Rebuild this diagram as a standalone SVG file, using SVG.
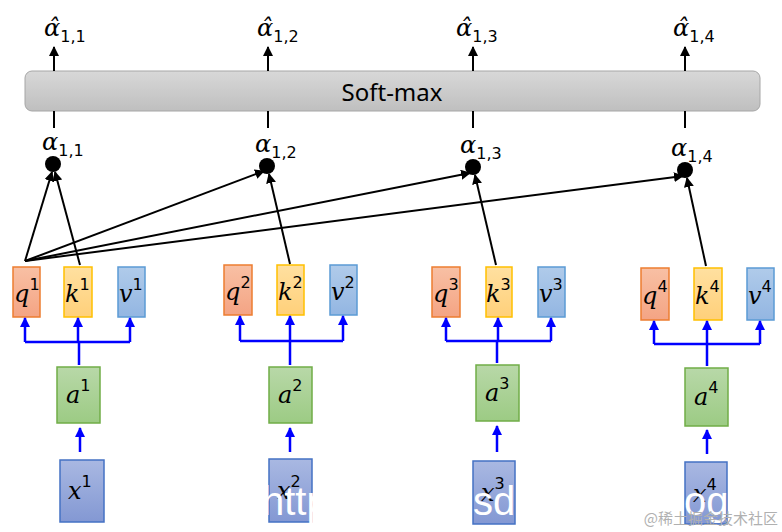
<svg xmlns="http://www.w3.org/2000/svg" width="782" height="532" viewBox="0 0 782 532">
<defs>
<linearGradient id="gq" x1="0" y1="0" x2="0" y2="1"><stop offset="0" stop-color="#f8c0a4"/><stop offset="1" stop-color="#f4a484"/></linearGradient>
<linearGradient id="gk" x1="0" y1="0" x2="0" y2="1"><stop offset="0" stop-color="#ffe0a0"/><stop offset="1" stop-color="#ffd07a"/></linearGradient>
<linearGradient id="gv" x1="0" y1="0" x2="0" y2="1"><stop offset="0" stop-color="#b0cbea"/><stop offset="1" stop-color="#93b6e2"/></linearGradient>
<linearGradient id="ga" x1="0" y1="0" x2="0" y2="1"><stop offset="0" stop-color="#b8d8a8"/><stop offset="1" stop-color="#9ccb84"/></linearGradient>
<linearGradient id="gx" x1="0" y1="0" x2="0" y2="1"><stop offset="0" stop-color="#a9b8e2"/><stop offset="1" stop-color="#8398d3"/></linearGradient>
<linearGradient id="gs" x1="0" y1="0" x2="0" y2="1"><stop offset="0" stop-color="#d8d8d8"/><stop offset="1" stop-color="#bfbfbf"/></linearGradient>
<marker id="ab" viewBox="0 0 10 10" refX="9" refY="5" markerWidth="4" markerHeight="4" orient="auto"><path d="M0,0L10,5L0,10z" fill="#0000ff"/></marker>
<marker id="ak" viewBox="0 0 10 10" refX="9" refY="5" markerWidth="5" markerHeight="5" orient="auto"><path d="M0,0L10,5L0,10z" fill="#000"/></marker>
</defs>
<style>
.t{font-family:"DejaVu Serif","Liberation Serif",serif;font-style:italic;font-size:24px;fill:#000}
.s{font-family:"DejaVu Sans","Liberation Sans",sans-serif;font-style:normal;font-size:16px}
.q{fill:url(#gq);stroke:#ed7d31;stroke-width:1.5}
.k{fill:url(#gk);stroke:#ffc000;stroke-width:1.5}
.v{fill:url(#gv);stroke:#5b9bd5;stroke-width:1.5}
.a{fill:url(#ga);stroke:#70ad47;stroke-width:1.5}
.x{fill:url(#gx);stroke:#4472c4;stroke-width:1.5}
.bl{stroke:#0000ff;stroke-width:2.5;fill:none}
.ba{stroke:#0000ff;stroke-width:2.5;fill:none;marker-end:url(#ab)}
.k2{stroke:#000;stroke-width:2;fill:none;marker-end:url(#ak)}
.k1{stroke:#000;stroke-width:2;fill:none}
.w{font-family:"Liberation Sans",sans-serif;font-size:40px;fill:#fff}
</style>
<g id="softmax">
<rect x="25" y="71" width="735" height="40" rx="7" fill="url(#gs)" stroke="#a6a6a6"/>
<text x="392" y="101" text-anchor="middle" font-family="Noto Sans,sans-serif" font-size="24">Soft-max</text>
</g>
<g id="outputs">
<text class="t" x="44" y="36">α̂<tspan class="s" dy="6">1,1</tspan></text>
<text class="t" x="257" y="36">α̂<tspan class="s" dy="6">1,2</tspan></text>
<text class="t" x="456" y="36">α̂<tspan class="s" dy="6">1,3</tspan></text>
<text class="t" x="673" y="36">α̂<tspan class="s" dy="6">1,4</tspan></text>
</g>
<g id="scores">
<text class="t" x="42" y="150">α<tspan class="s" dy="6">1,1</tspan></text><circle cx="53" cy="164" r="8"/>
<text class="t" x="255" y="152">α<tspan class="s" dy="6">1,2</tspan></text><circle cx="267" cy="166" r="8"/>
<text class="t" x="460" y="153">α<tspan class="s" dy="6">1,3</tspan></text><circle cx="473" cy="167" r="8"/>
<text class="t" x="671" y="156">α<tspan class="s" dy="6">1,4</tspan></text><circle cx="685" cy="170" r="8"/>
</g>
<g id="n1">
<rect class="q" x="13" y="267" width="27" height="50"/><text class="t" x="14" y="302">q<tspan class="s" dy="-12">1</tspan></text>
<rect class="k" x="64" y="267" width="28" height="50"/><text class="t" x="65" y="302">k<tspan class="s" dy="-12">1</tspan></text>
<rect class="v" x="118" y="267" width="27" height="50"/><text class="t" x="119" y="302">v<tspan class="s" dy="-12">1</tspan></text>
<rect class="a" x="57" y="367" width="43" height="56"/><text class="t" x="66" y="403">a<tspan class="s" dy="-12">1</tspan></text>
<rect class="x" x="60" y="460" width="44" height="62"/><text class="t" x="68" y="499">x<tspan class="s" dy="-12">1</tspan></text>
</g>
<g id="n2">
<rect class="q" x="224" y="265" width="28" height="50"/><text class="t" x="225" y="300">q<tspan class="s" dy="-12">2</tspan></text>
<rect class="k" x="277" y="265" width="27" height="50"/><text class="t" x="278" y="300">k<tspan class="s" dy="-12">2</tspan></text>
<rect class="v" x="330" y="265" width="27" height="50"/><text class="t" x="331" y="300">v<tspan class="s" dy="-12">2</tspan></text>
<rect class="a" x="269" y="367" width="43" height="56"/><text class="t" x="278" y="403">a<tspan class="s" dy="-12">2</tspan></text>
<rect class="x" x="269" y="459" width="43" height="63"/><text class="t" x="277" y="499">x<tspan class="s" dy="-12">2</tspan></text>
</g>
<g id="n3">
<rect class="q" x="432" y="267" width="28" height="50"/><text class="t" x="433" y="302">q<tspan class="s" dy="-12">3</tspan></text>
<rect class="k" x="486" y="267" width="26" height="50"/><text class="t" x="486" y="302">k<tspan class="s" dy="-12">3</tspan></text>
<rect class="v" x="538" y="267" width="27" height="50"/><text class="t" x="539" y="302">v<tspan class="s" dy="-12">3</tspan></text>
<rect class="a" x="476" y="365" width="43" height="56"/><text class="t" x="485" y="401">a<tspan class="s" dy="-12">3</tspan></text>
<rect class="x" x="473" y="461" width="42" height="63"/><text class="t" x="481" y="501">x<tspan class="s" dy="-12">3</tspan></text>
</g>
<g id="n4">
<rect class="q" x="641" y="268" width="28" height="52"/><text class="t" x="642" y="304">q<tspan class="s" dy="-12">4</tspan></text>
<rect class="k" x="694" y="268" width="28" height="52"/><text class="t" x="695" y="304">k<tspan class="s" dy="-12">4</tspan></text>
<rect class="v" x="747" y="268" width="27" height="52"/><text class="t" x="748" y="304">v<tspan class="s" dy="-12">4</tspan></text>
<rect class="a" x="685" y="368" width="43" height="58"/><text class="t" x="694" y="405">a<tspan class="s" dy="-12">4</tspan></text>
<rect class="x" x="685" y="462" width="42" height="62"/><text class="t" x="693" y="502">x<tspan class="s" dy="-12">4</tspan></text>
</g>
<g id="connectors">
<path class="bl" d="M25,342H130M79,365V342M290,365V341M240,341H343M497,363V341M446,341H551M707,366V344M654,344H760"/>
<line class="ba" x1="25" y1="342" x2="25" y2="318"/><line class="ba" x1="78" y1="342" x2="78" y2="318"/><line class="ba" x1="130" y1="342" x2="130" y2="318"/>
<line class="ba" x1="240" y1="341" x2="240" y2="316"/><line class="ba" x1="290" y1="341" x2="290" y2="316"/><line class="ba" x1="343" y1="341" x2="343" y2="316"/>
<line class="ba" x1="446" y1="341" x2="446" y2="318"/><line class="ba" x1="498" y1="341" x2="498" y2="318"/><line class="ba" x1="551" y1="341" x2="551" y2="318"/>
<line class="ba" x1="654" y1="344" x2="654" y2="321"/><line class="ba" x1="707" y1="344" x2="707" y2="321"/><line class="ba" x1="760" y1="344" x2="760" y2="321"/>
<line class="ba" x1="80" y1="452" x2="80" y2="428"/><line class="ba" x1="290" y1="452" x2="290" y2="428"/><line class="ba" x1="497" y1="452" x2="497" y2="426"/><line class="ba" x1="707" y1="454" x2="707" y2="430"/>
<line class="k2" x1="54" y1="71" x2="54" y2="47"/><line class="k2" x1="268" y1="71" x2="268" y2="47"/><line class="k2" x1="473" y1="71" x2="473" y2="47"/><line class="k2" x1="685" y1="71" x2="685" y2="47"/>
<path class="k1" d="M54,111V128M268,111V128M473,111V128M685,111V128"/>
<line class="k2" x1="25" y1="261" x2="52" y2="172"/><line class="k2" x1="25" y1="261" x2="264" y2="171"/><line class="k2" x1="25" y1="261" x2="470" y2="173"/><line class="k2" x1="25" y1="261" x2="683" y2="176"/>
<line class="k2" x1="80" y1="265" x2="55" y2="172"/><line class="k2" x1="290" y1="264" x2="269" y2="174"/><line class="k2" x1="496" y1="265" x2="475" y2="175"/><line class="k2" x1="706" y1="266" x2="687" y2="178"/>
</g>
<g id="watermark">
<text class="w" x="262" y="515">http</text>
<text class="w" x="473" y="515">sd</text>
<text class="w" x="684" y="515">og</text>
<text x="778" y="524" text-anchor="end" font-family="Noto Sans CJK SC,sans-serif" font-size="15" fill="#b0b0b0">@稀土掘金技术社区</text>
</g>
</svg>
